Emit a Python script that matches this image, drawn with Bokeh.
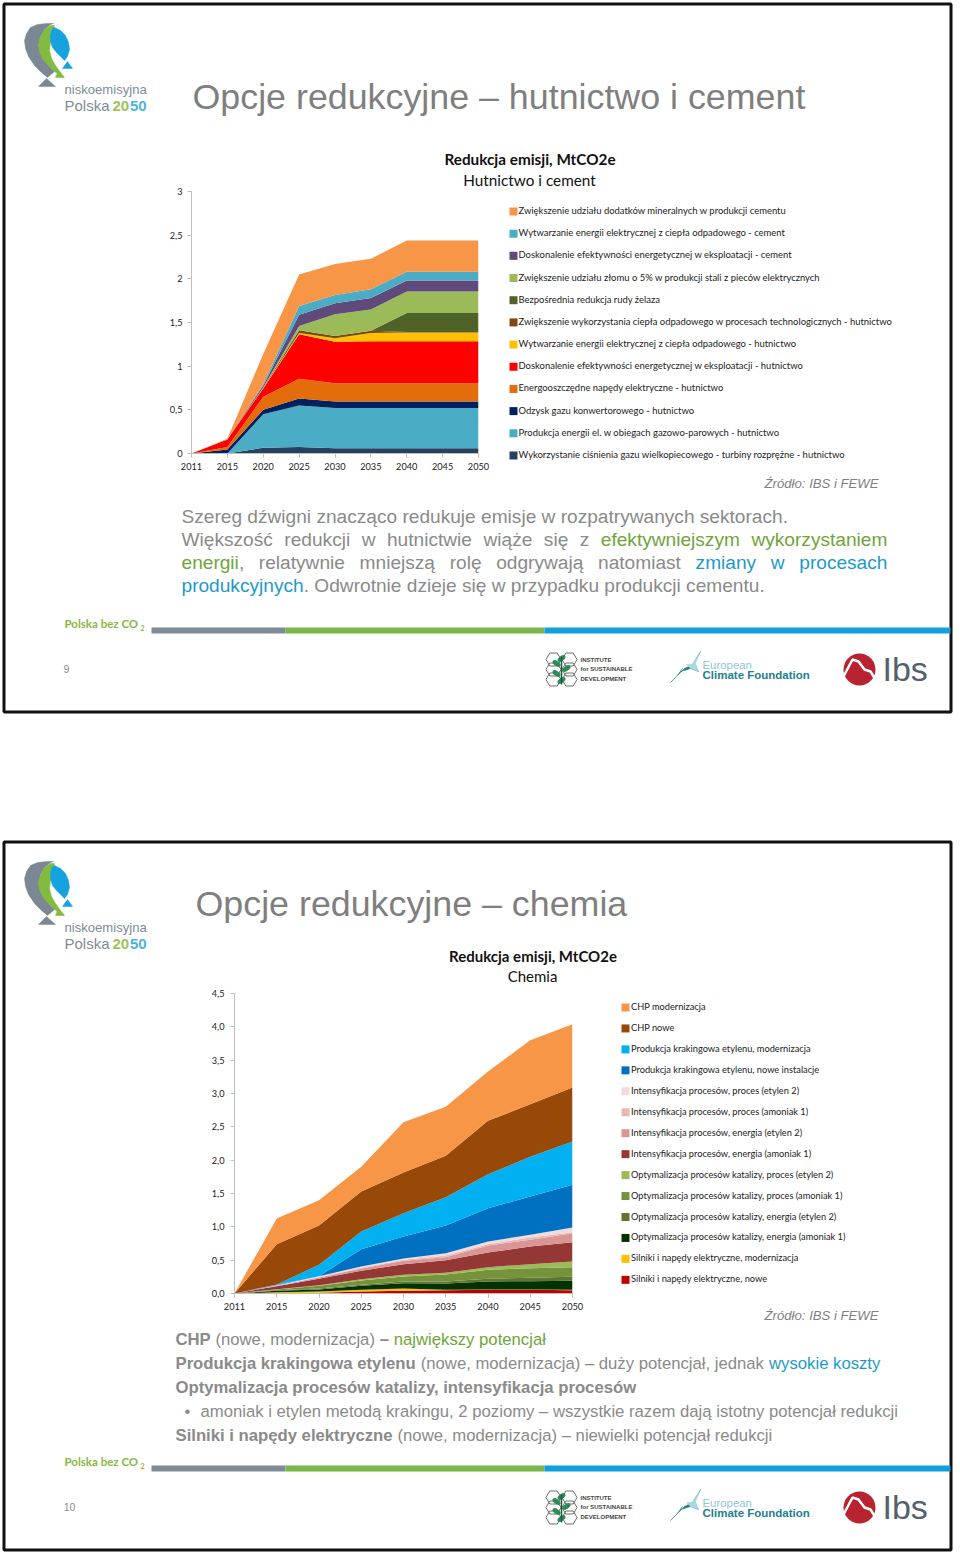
from bokeh.plotting import figure
from bokeh.models import (ColumnDataSource, Range1d, FixedTicker)
from bokeh.core.properties import value
from bokeh.embed import file_html
from bokeh.resources import INLINE

# ---------- data ----------
years = ["2011", "2015", "2020", "2025", "2030", "2035", "2040", "2045", "2050"]

y1_ticks = [0, 0.5, 1, 1.5, 2, 2.5, 3]
y1_labels = ["0", "0,5", "1", "1,5", "2", "2,5", "3"]
y2_ticks = [0, 0.5, 1, 1.5, 2, 2.5, 3, 3.5, 4, 4.5]
y2_labels = ["0,0", "0,5", "1,0", "1,5", "2,0", "2,5", "3,0", "3,5", "4,0", "4,5"]

# slide 1, bottom to top of the stack
h_turbiny   = [0, 0, .065, .075, .06, .06, .06, .06, .06]
h_gazowo    = [0, 0, .385, .475, .46, .46, .46, .46, .46]
h_odzysk    = [0, .045, .05, .08, .075, .075, .075, .075, .075]
h_napedy    = [0, .03, .15, .225, .21, .21, .21, .21, .21]
h_efekt     = [0, .085, .095, .51, .475, .48, .48, .48, .48]
h_wytw      = [0, 0, .005, .015, .04, .095, .10, .10, .10]
h_cieplo    = [0, 0, .005, .03, .025, .025, .005, .005, .005]
h_rudy      = [0, 0, 0, 0, 0, 0, .22, .22, .22]
h_zlom      = [0, 0, .005, .05, .25, .245, .245, .245, .245]
c_efekt     = [0, 0, .02, .13, .125, .13, .125, .125, .125]
c_wytw      = [0, 0, .015, .10, .095, .10, .10, .10, .10]
c_dodatki   = [0, .01, .345, .36, .355, .35, .36, .36, .36]

names1 = ["Wykorzystanie ciśnienia gazu wielkopiecowego - turbiny rozprężne - hutnictwo",
          "Produkcja energii el. w obiegach gazowo-parowych - hutnictwo",
          "Odzysk gazu konwertorowego - hutnictwo",
          "Energooszczędne napędy elektryczne - hutnictwo",
          "Doskonalenie efektywności energetycznej w eksploatacji - hutnictwo",
          "Wytwarzanie energii elektrycznej z ciepła odpadowego - hutnictwo",
          "Zwiększenie wykorzystania ciepła odpadowego w procesach technologicznych - hutnictwo",
          "Bezpośrednia redukcja rudy żelaza",
          "Zwiększenie udziału złomu o 5% w produkcji stali z pieców elektrycznych",
          "Doskonalenie efektywności energetycznej w eksploatacji - cement",
          "Wytwarzanie energii elektrycznej z ciepła odpadowego - cement",
          "Zwiększenie udziału dodatków mineralnych w produkcji cementu"]
series1 = [h_turbiny, h_gazowo, h_odzysk, h_napedy, h_efekt, h_wytw, h_cieplo, h_rudy,
           h_zlom, c_efekt, c_wytw, c_dodatki]
colors1 = ["#254061", "#4BACC6", "#002060", "#E46C0A", "#FF0000", "#FFC000", "#7F4A0F",
           "#4F6228", "#9BBB59", "#604A7B", "#4BACC6", "#F79646"]

# slide 2, bottom to top of the stack
s_nowe   = [0, .005, .01, .03, .04, .05, .055, .055, .05]
s_mod    = [0, .015, .02, .025, .035, .005, .005, .005, .005]
o_en_am  = [0, .02, .03, .06, .08, .095, .12, .125, .135]
o_en_et  = [0, .01, .015, .015, .025, .03, .04, .05, .06]
o_pr_am  = [0, .01, .04, .065, .075, .105, .135, .145, .145]
o_pr_et  = [0, .005, .01, .02, .025, .025, .04, .06, .085]
i_en_am  = [0, .045, .095, .125, .16, .19, .22, .265, .29]
i_en_et  = [0, .005, .02, .035, .05, .045, .105, .10, .135]
i_pr_am  = [0, .005, .005, .01, .015, .025, .02, .035, .015]
i_pr_et  = [0, .005, .015, .02, .02, .035, .04, .04, .07]
k_nowe   = [0, .005, 0, .26, .33, .415, .50, .575, .64]
k_mod    = [0, .005, .17, .265, .35, .425, .51, .595, .65]
chp_nowe = [0, .605, .59, .60, .61, .62, .80, .79, .81]
chp_mod  = [0, .385, .38, .37, .755, .735, .74, .96, .95]

names2 = ["Silniki i napędy elektryczne, nowe",
          "Silniki i napędy elektryczne, modernizacja",
          "Optymalizacja procesów katalizy, energia (amoniak 1)",
          "Optymalizacja procesów katalizy, energia (etylen 2)",
          "Optymalizacja procesów katalizy, proces (amoniak 1)",
          "Optymalizacja procesów katalizy, proces (etylen 2)",
          "Intensyfikacja procesów, energia (amoniak 1)",
          "Intensyfikacja procesów, energia (etylen 2)",
          "Intensyfikacja procesów, proces (amoniak 1)",
          "Intensyfikacja procesów, proces (etylen 2)",
          "Produkcja krakingowa etylenu, nowe instalacje",
          "Produkcja krakingowa etylenu, modernizacja",
          "CHP nowe",
          "CHP modernizacja"]
series2 = [s_nowe, s_mod, o_en_am, o_en_et, o_pr_am, o_pr_et, i_en_am, i_en_et, i_pr_am,
           i_pr_et, k_nowe, k_mod, chp_nowe, chp_mod]
colors2 = ["#C00000", "#FFC000", "#003300", "#5F7530", "#76933C", "#9BBB59", "#953735",
           "#D99694", "#E6B9B8", "#F2DCDB", "#0070C0", "#00B0F0", "#984807", "#F79646"]

GRAY = "#8A8A8A"
GREEN = "#6FA53A"
BLUE = "#1C9BC8"
CHART_FONT = "Lato"
TXT_FONT = "Liberation Sans"

# ---------- page background ----------
bg = figure(width=960, height=1556, x_range=Range1d(0, 960), y_range=Range1d(1556, 0),
            toolbar_location=None, output_backend="svg", min_border=0, outline_line_color=None)
bg.axis.visible = False
bg.grid.visible = False
bg.styles = {"position": "absolute", "left": "0px", "top": "0px"}


def T(x, y, s, size, color=GRAY, font=TXT_FONT, style="normal", align="left"):
    bg.text([x], [y], text=[s], text_font=value(font), text_font_size=f"{size:.2f}px",
            text_color=color, text_font_style=style, text_align=align, text_baseline="alphabetic")


REG = dict(zip("abcdefghijklmnopqrstuvwxyz", [556, 556, 500, 556, 556, 278, 556, 556, 222, 222, 500, 222,
                                              833, 556, 556, 556, 556, 333, 500, 278, 556, 500, 722, 500, 500, 500]))
BLD = dict(zip("abcdefghijklmnopqrstuvwxyz", [556, 611, 556, 611, 556, 333, 611, 611, 278, 278, 556, 278,
                                              889, 611, 611, 611, 611, 389, 556, 333, 611, 556, 778, 556, 556, 500]))
OTHER = {" ": 278, ",": 278, ".": 278, "(": 333, ")": 333, "–": 556, "-": 333, "W": 944, "S": 667, "O": 778,
         "C": 722, "H": 722, "P": 667, "ł": 222, "2": 556}
PL = str.maketrans("ęąóśźżćń", "eaoszzcn")


def width(s, size, bold=False):
    t = BLD if bold else REG
    tot = 0
    for ch in s.translate(PL):
        if ch == "ł" and bold:
            tot += 278
        else:
            tot += t.get(ch, OTHER.get(ch, 556))
    return tot * size / 1000


def runs(x, y, parts, size):
    for s, color, bold in parts:
        lead = len(s) - len(s.lstrip(" "))
        T(x + lead * 278 * size / 1000, y, s.strip(" "), size, color, style="bold" if bold else "normal")
        x += width(s, size, bold)
    return x


def justified(x0, x1, y, words, size):
    w = [sum(width(s, size, b) for s, c, b in word) for word in words]
    gap = (x1 - x0 - sum(w)) / (len(words) - 1)
    x = x0
    for word, ww in zip(words, w):
        runs(x, y, word, size)
        x += ww + gap


def W(s, color=GRAY, bold=False):
    return [(s, color, bold)]


L1 = "Szereg dźwigni znacząco redukuje emisje w rozpatrywanych sektorach."
S1 = 607 / width(L1, 1)
S2 = 705 / (width("Produkcja krakingowa etylenu", 1, True) + width(" (nowe, modernizacja) – duży potencjał, jednak wysokie koszty", 1))


def poly(xs, ys, color, dy=0):
    bg.patch(xs, [v + dy for v in ys], fill_color=color, line_color=color, line_width=0.5)


def slide_common(dy, num, num_x):
    # frame
    bg.quad(left=[3.5], right=[950.5], top=[3.5 + dy], bottom=[711.5 + dy], fill_color=None,
            line_color="#111111", line_width=3)
    # balloon logo
    poly([46, 37, 30, 26, 24, 25, 28, 34, 41, 47, 54, 50, 44, 40, 38, 40, 44, 50, 53],
         [23, 24, 27, 33, 40, 48, 56, 65, 72, 77, 71, 67, 60, 53, 45, 36, 29, 24, 23], "#7B8894", dy)
    poly([50, 44, 40, 38, 39, 42, 47, 54, 62, 64, 60, 55, 51, 49, 50, 52, 54],
         [25, 29, 36, 44, 51, 58, 64, 71, 77, 77, 72, 65, 58, 50, 42, 32, 25], "#82BB3F", dy)
    poly([54, 60, 65, 68, 69, 67, 64, 60, 56, 52, 50, 50, 52],
         [27, 30, 35, 42, 49, 56, 60, 56, 52, 47, 41, 34, 28], "#14A3DF", dy)
    poly([38, 55, 46], [86, 86, 78], "#7B8894", dy)
    poly([55, 63, 58], [77, 77, 70], "#82BB3F", dy)
    poly([62, 72, 67], [68, 68, 61], "#14A3DF", dy)
    T(64, 89 + dy, "niskoemisyjna", 13.1, "#7E8B96")
    T(64, 105 + dy, "Polska", 15, "#7E8B96")
    T(112, 105 + dy, "20", 15, "#9CC45A", style="bold")
    T(129.5, 105 + dy, "50", 15, "#4DB4D8", style="bold")
    # footer
    T(64, 623 + dy, "Polska bez CO", 11.5, "#86B944", "Lato", "bold")
    T(140, 627 + dy, "2", 7, "#86B944", "Lato", "bold")
    bg.quad(left=[151, 285, 544], right=[285, 544, 950], top=[627 + dy] * 3, bottom=[633 + dy] * 3,
            fill_color=["#7F8C96", "#7AB648", "#12A0DC"], line_color=None)
    T(num_x, 668 + dy, num, 10.5, "#8C8C8C", align="center")
    # institute logo
    for c in (659, 669, 679):
        bg.scatter([553, 569], [c + dy, c + dy], marker="hex", size=15, fill_color=None,
                   line_color="#6E6E6E", line_width=1)
    for cx, cy, ang in ((561, 658, .6), (556, 663, -.6), (566, 668, .6), (556, 673, -.6), (561, 680, .6)):
        bg.ellipse([cx], [cy + dy], width=9, height=5, angle=ang, fill_color="#2E8B57", line_color=None)
    bg.line([561, 561], [656 + dy, 684 + dy], line_color="#1C5B3A", line_width=1.5)
    T(580, 659 + dy, "INSTITUTE", 6, "#444444", style="bold")
    T(580, 668.5 + dy, "for SUSTAINABLE", 6, "#444444", style="bold")
    T(580, 678 + dy, "DEVELOPMENT", 6, "#444444", style="bold")
    # climate foundation logo
    poly([670, 684, 692, 700, 694, 698, 690, 684, 680, 682, 676],
         [682, 668, 664, 651, 663, 671, 668, 670, 671, 668, 676], "#1F7F78", dy)
    poly([686, 692, 700, 695, 698, 690], [664, 664, 651, 663, 671, 668], "#A9D8E2", dy)
    T(702, 664 + dy, "European", 11.4, "#8FC4D6")
    T(702, 674 + dy, "Climate Foundation", 11.5, "#22808F", style="bold")
    # ibs logo
    bg.circle([859], [669 + dy], radius=16, fill_color="#B8232F", line_color=None)
    bg.line([843, 852, 858, 864, 870, 875], [676 + dy, 659 + dy, 661 + dy, 669 + dy, 671 + dy, 679 + dy],
            line_color="white", line_width=2.5)
    T(882, 668 + dy, "Ibs", 34, "#55606A")


slide_common(0, "9", 66)
slide_common(838, "10", 69)

# titles
T(192, 96.5, "Opcje redukcyjne – hutnictwo i cement", 35.8, "#7F7F7F")
T(195, 903.5, "Opcje redukcyjne – chemia", 35.8, "#7F7F7F")
T(529.5, 158, "Redukcja emisji, MtCO2e", 15.3, "#111111", CHART_FONT, "bold", "center")
T(529, 179, "Hutnictwo i cement", 15.3, "#111111", CHART_FONT, "normal", "center")
T(532.5, 955.5, "Redukcja emisji, MtCO2e", 15, "#111111", CHART_FONT, "bold", "center")
T(532, 975, "Chemia", 15, "#111111", CHART_FONT, "normal", "center")
T(878, 483, "Źródło: IBS i FEWE", 13.15, "#7F7F7F", style="italic", align="right")
T(878, 1315, "Źródło: IBS i FEWE", 13.15, "#7F7F7F", style="italic", align="right")

# body text slide 1
T(181, 516, L1, S1)
justified(181, 887, 539, [W("Większość"), W("redukcji"), W("w"), W("hutnictwie"), W("wiąże"), W("się"), W("z"),
                          W("efektywniejszym", GREEN), W("wykorzystaniem", GREEN)], S1)
justified(181, 887, 562, [W("energii", GREEN) + W(","), W("relatywnie"), W("mniejszą"), W("rolę"), W("odgrywają"),
                          W("natomiast"), W("zmiany", BLUE), W("w", BLUE), W("procesach", BLUE)], S1)
runs(181, 585, [("produkcyjnych", BLUE, False), (". Odwrotnie dzieje się w przypadku produkcji cementu.", GRAY, False)], S1)

# body text slide 2
runs(175, 1339, [("CHP", GRAY, True), (" (nowe, modernizacja) ", GRAY, False), ("– ", GRAY, True),
                 ("największy potencjał", GREEN, False)], S2)
runs(175, 1363, [("Produkcja krakingowa etylenu", GRAY, True), (" (nowe, modernizacja) – duży potencjał, jednak ", GRAY, False),
                 ("wysokie koszty", BLUE, False)], S2)
runs(175, 1387, [("Optymalizacja procesów katalizy, intensyfikacja procesów", GRAY, True)], S2)
T(184, 1411, "•", S2, GRAY)
runs(200, 1411, [("amoniak i etylen metodą krakingu, 2 poziomy – wszystkie razem dają istotny potencjał redukcji", GRAY, False)], S2)
runs(175, 1435, [("Silniki i napędy elektryczne", GRAY, True), (" (nowe, modernizacja) – niewielki potencjał redukcji", GRAY, False)], S2)


# legends (top row is the top of the stack)
def legend(names, colors, sq_x, txt_x, y0, step, size):
    n = len(names)
    ys = [y0 + i * step for i in range(n)]
    bg.quad(left=[sq_x] * n, right=[sq_x + 8] * n, top=[y - 4 for y in ys], bottom=[y + 4 for y in ys],
            fill_color=colors[::-1], line_color=None)
    for y, name in zip(ys, names[::-1]):
        T(txt_x, y - 1, name, size, "#222222", CHART_FONT)


legend(names1, colors1, 509, 518, 211, 22.18, 9.45)
legend(names2, colors2, 621, 630.5, 1007, 20.95, 9.25)


# ---------- charts ----------
def chart(left, top, wid, hei, mleft, mtop, mbottom, frame_w, ymax, ticks, labels, series, colors, ystand):
    p = figure(width=wid, height=hei, x_range=Range1d(0, 8), y_range=Range1d(0, ymax),
               toolbar_location=None, output_backend="svg", min_border_left=mleft, min_border_top=mtop,
               min_border_bottom=mbottom, min_border_right=wid - mleft - frame_w,
               background_fill_color=None, border_fill_color=None, outline_line_color=None)
    p.styles = {"position": "absolute", "left": f"{left}px", "top": f"{top}px"}
    p.grid.visible = False
    cols = [f"s{i}" for i in range(len(series))]
    data = {c: s for c, s in zip(cols, series)}
    data["x"] = list(range(len(years)))
    p.varea_stack(cols, x="x", color=colors, source=ColumnDataSource(data))
    for ax in (p.xaxis[0], p.yaxis[0]):
        ax.axis_line_color = "#BFBFBF"
        ax.major_tick_line_color = "#BFBFBF"
        ax.minor_tick_line_color = None
        ax.major_tick_in = 0
        ax.major_tick_out = 4
        ax.major_label_text_font = CHART_FONT
        ax.major_label_text_font_size = "9.2px"
        ax.major_label_text_color = "#222222"
    p.xaxis[0].ticker = FixedTicker(ticks=list(range(len(years))))
    p.xaxis[0].major_label_overrides = {i: y for i, y in enumerate(years)}
    p.xaxis[0].major_label_standoff = 5
    p.yaxis[0].ticker = FixedTicker(ticks=ticks)
    p.yaxis[0].major_label_overrides = {t: l for t, l in zip(ticks, labels)}
    p.yaxis[0].major_label_standoff = ystand
    return p


c1 = chart(150, 170, 348, 320, 41, 21, 37, 287, 3, y1_ticks, y1_labels, series1, colors1, 5)
c2 = chart(190, 985, 402, 340, 44, 8, 32, 338, 4.5, y2_ticks, y2_labels, series2, colors2, 6)

open("out.html", "w").write(file_html([bg, c1, c2], INLINE))
